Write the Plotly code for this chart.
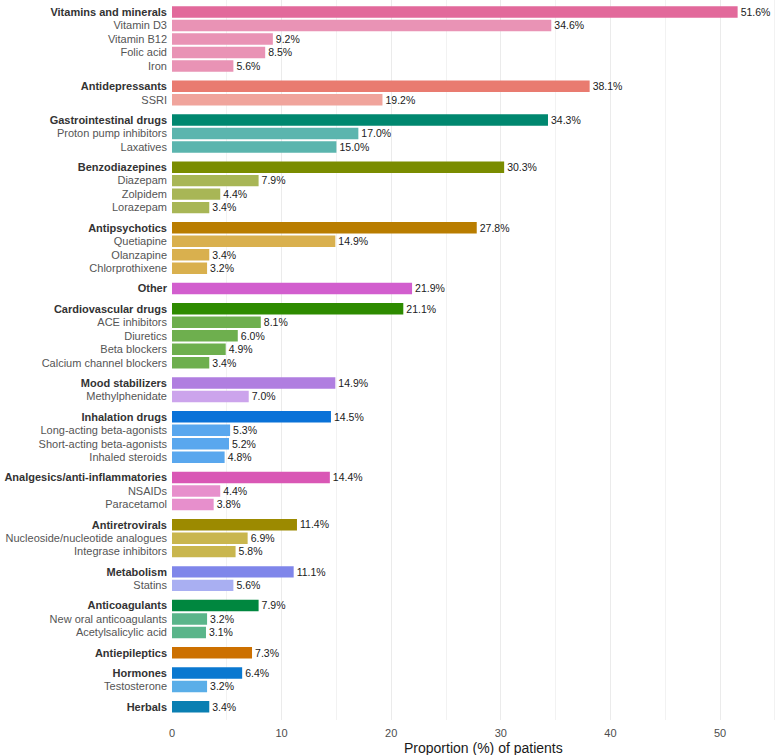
import plotly.graph_objects as go

# ---- data ----
categories = ["Vitamins and minerals", "Antidepressants", "Gastrointestinal drugs",
              "Benzodiazepines", "Antipsychotics", "Other", "Cardiovascular drugs",
              "Mood stabilizers", "Inhalation drugs", "Analgesics/anti-inflammatories",
              "Antiretrovirals", "Metabolism", "Anticoagulants", "Antiepileptics",
              "Hormones", "Herbals"]
category_values = [51.6, 38.1, 34.3, 30.3, 27.8, 21.9, 21.1, 14.9, 14.5, 14.4,
                   11.4, 11.1, 7.9, 7.3, 6.4, 3.4]
sub_names = [
    ["Vitamin D3", "Vitamin B12", "Folic acid", "Iron"],
    ["SSRI"],
    ["Proton pump inhibitors", "Laxatives"],
    ["Diazepam", "Zolpidem", "Lorazepam"],
    ["Quetiapine", "Olanzapine", "Chlorprothixene"],
    [],
    ["ACE inhibitors", "Diuretics", "Beta blockers", "Calcium channel blockers"],
    ["Methylphenidate"],
    ["Long-acting beta-agonists", "Short-acting beta-agonists", "Inhaled steroids"],
    ["NSAIDs", "Paracetamol"],
    ["Nucleoside/nucleotide analogues", "Integrase inhibitors"],
    ["Statins"],
    ["New oral anticoagulants", "Acetylsalicylic acid"],
    [],
    ["Testosterone"],
    [],
]
sub_values = [
    [34.6, 9.2, 8.5, 5.6],
    [19.2],
    [17.0, 15.0],
    [7.9, 4.4, 3.4],
    [14.9, 3.4, 3.2],
    [],
    [8.1, 6.0, 4.9, 3.4],
    [7.0],
    [5.3, 5.2, 4.8],
    [4.4, 3.8],
    [6.9, 5.8],
    [5.6],
    [3.2, 3.1],
    [],
    [3.2],
    [],
]
category_colors = ["#E2699B", "#E97B70", "#00876F", "#7A8C00", "#B97D00", "#D25ECE",
                   "#2E8B00", "#B07EE0", "#0A72D8", "#D957B5", "#9C8A00", "#7F86EA",
                   "#00873F", "#CC7000", "#0A78D0", "#0A7FB2"]
sub_colors = ["#E993B5", "#F0A49C", "#5BB5AE", "#A8B656", "#D9B04E", "#E08CDC",
              "#6EAF4E", "#CCA4EC", "#59A7EE", "#E78FCC", "#C9B64E", "#A9AFF2",
              "#5AB58A", "#E0A050", "#5AAEE8", "#5AAAD0"]

# ---- build rows ----
ys, xs, cols, labels = [], [], [], []
pos = 0.0
for i, cat in enumerate(categories):
    ys.append(pos); xs.append(category_values[i]); cols.append(category_colors[i])
    labels.append(f"<b><span style='color:#333333'>{cat}</span></b>")
    pos += 1
    for n, v in zip(sub_names[i], sub_values[i]):
        ys.append(pos); xs.append(v); cols.append(sub_colors[i])
        labels.append(f"<span style='color:#555555'>{n}</span>")
        pos += 1
    pos += 0.5

fig = go.Figure(go.Bar(
    x=xs, y=ys, orientation="h", width=0.85,
    marker=dict(color=cols, line=dict(width=0)),
    text=[f"{v:.1f}%" for v in xs], textposition="outside",
    textfont=dict(size=11, color="#1a1a1a", family="Liberation Sans, Arial, sans-serif"),
    cliponaxis=False, hoverinfo="skip",
))

fig.update_layout(
    width=776, height=755, margin=dict(l=172, r=0, t=0, b=35),
    plot_bgcolor="white", paper_bgcolor="white", showlegend=False,
    font=dict(family="Liberation Sans, Arial, sans-serif", size=11, color="#4D4D4D"),
    xaxis=dict(range=[0, 55.1], tickvals=[0, 10, 20, 30, 40, 50], showgrid=True,
               gridcolor="#EBEBEB", gridwidth=1, zeroline=False, showline=False,
               ticks="", ticklabelstandoff=5, tickfont=dict(size=11, color="#4D4D4D"),
               minor=dict(dtick=5, showgrid=True, gridcolor="#F2F2F2", gridwidth=0.6)),
    yaxis=dict(range=[52.48, -0.89], tickvals=ys, ticktext=labels, showgrid=False,
               zeroline=False, showline=False, ticks="", ticklabelstandoff=4,
               tickfont=dict(size=11)),
    annotations=[dict(text="Proportion (%) of patients", xref="paper", yref="paper",
                      x=0.515, y=0, yshift=-28, xanchor="center", yanchor="middle",
                      showarrow=False, font=dict(size=14, color="#1a1a1a"))],
)

fig.write_html("out.html")
